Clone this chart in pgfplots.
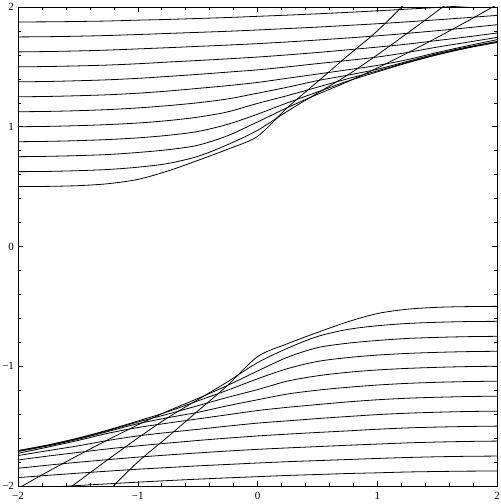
\documentclass[border=0pt]{standalone}
\usepackage{pgfplots}
\pgfplotsset{compat=1.18}
\usepackage{pgfplotstable}
\usepackage{fontspec}
\setmainfont{Liberation Serif}

% upper family, started flat at x=-2
\pgfplotstableread{
x     a     b     c     d     e     f     g     h     i     j     k     l
-2    1.875 1.750 1.625 1.500 1.375 1.250 1.125 1.000 0.875 0.750 0.625 0.500
-1.75 1.876 1.752 1.628 1.503 1.378 1.253 1.128 1.003 0.878 0.753 0.627 0.502
-1.5  1.879 1.756 1.633 1.508 1.384 1.259 1.134 1.009 0.884 0.759 0.633 0.508
-1.25 1.883 1.762 1.640 1.515 1.392 1.267 1.143 1.018 0.893 0.768 0.643 0.524
-1    1.890 1.770 1.650 1.526 1.404 1.280 1.157 1.031 0.907 0.785 0.662 0.560
-0.75 1.896 1.779 1.660 1.540 1.420 1.298 1.176 1.051 0.928 0.808 0.693 0.630
-0.5  1.904 1.788 1.671 1.553 1.437 1.320 1.200 1.080 0.960 0.845 0.752 0.718
-0.25 1.912 1.797 1.682 1.567 1.456 1.343 1.232 1.124 1.020 0.925 0.850 0.812
0     1.922 1.808 1.694 1.582 1.475 1.370 1.280 1.195 1.105 1.040 0.970 0.920
0.25  1.932 1.820 1.708 1.600 1.500 1.405 1.330 1.260 1.200 1.160 1.130 1.160
0.5   1.943 1.832 1.724 1.620 1.527 1.440 1.385 1.330 1.290 1.270 1.280 1.375
0.75  1.955 1.846 1.741 1.642 1.553 1.475 1.430 1.400 1.380 1.375 1.430 1.590
1     1.968 1.860 1.759 1.665 1.582 1.512 1.480 1.466 1.458 1.490 1.600 1.800
1.25  1.982 1.876 1.780 1.690 1.620 1.560 1.545 1.538 1.533 1.615 1.780 2.050
1.5   1.996 1.893 1.802 1.720 1.665 1.620 1.610 1.603 1.600 1.745 1.965 2.350
1.75  2.011 1.911 1.826 1.750 1.705 1.675 1.665 1.660 1.657 1.880 2.150 2.600
2     2.027 1.930 1.852 1.783 1.746 1.727 1.712 1.707 1.704 2.020 2.330 2.900
}\upperfam

% lower family, started flat at x=2
\pgfplotstableread{
x     a      b      c      d      e      f      g      h      i      j      k      l
2     -1.875 -1.750 -1.625 -1.500 -1.375 -1.250 -1.125 -1.000 -0.875 -0.750 -0.625 -0.500
1.75  -1.876 -1.752 -1.628 -1.503 -1.378 -1.253 -1.128 -1.003 -0.878 -0.753 -0.627 -0.502
1.5   -1.879 -1.756 -1.633 -1.508 -1.384 -1.259 -1.134 -1.009 -0.884 -0.759 -0.633 -0.508
1.25  -1.883 -1.762 -1.640 -1.515 -1.392 -1.267 -1.143 -1.018 -0.893 -0.768 -0.643 -0.524
1     -1.890 -1.770 -1.650 -1.526 -1.404 -1.280 -1.157 -1.031 -0.907 -0.785 -0.662 -0.560
0.75  -1.896 -1.779 -1.660 -1.540 -1.420 -1.298 -1.176 -1.051 -0.928 -0.808 -0.693 -0.630
0.5   -1.904 -1.788 -1.671 -1.553 -1.437 -1.320 -1.200 -1.080 -0.960 -0.845 -0.752 -0.718
0.25  -1.912 -1.797 -1.682 -1.567 -1.456 -1.343 -1.232 -1.124 -1.020 -0.925 -0.850 -0.812
0     -1.922 -1.808 -1.694 -1.582 -1.475 -1.370 -1.280 -1.195 -1.105 -1.040 -0.970 -0.920
-0.25 -1.932 -1.820 -1.708 -1.600 -1.500 -1.405 -1.330 -1.260 -1.200 -1.160 -1.130 -1.160
-0.5  -1.943 -1.832 -1.724 -1.620 -1.527 -1.440 -1.385 -1.330 -1.290 -1.270 -1.280 -1.375
-0.75 -1.955 -1.846 -1.741 -1.642 -1.553 -1.475 -1.430 -1.400 -1.380 -1.375 -1.430 -1.590
-1    -1.968 -1.860 -1.759 -1.665 -1.582 -1.512 -1.480 -1.466 -1.458 -1.490 -1.600 -1.800
-1.25 -1.982 -1.876 -1.780 -1.690 -1.620 -1.560 -1.545 -1.538 -1.533 -1.615 -1.780 -2.050
-1.5  -1.996 -1.893 -1.802 -1.720 -1.665 -1.620 -1.610 -1.603 -1.600 -1.745 -1.965 -2.350
-1.75 -2.011 -1.911 -1.826 -1.750 -1.705 -1.675 -1.665 -1.660 -1.657 -1.880 -2.150 -2.600
-2    -2.027 -1.930 -1.852 -1.783 -1.746 -1.727 -1.712 -1.707 -1.704 -2.020 -2.330 -2.900
}\lowerfam

\begin{document}
\begin{tikzpicture}
\begin{axis}[
  scale only axis, width=479pt, height=479pt,
  xmin=-2, xmax=2, ymin=-2, ymax=2,
  xtick={-2,-1,0,1,2}, ytick={-2,-1,0,1,2},
  xticklabels={−2,−1,0,1,2}, yticklabels={−2,−1,0,1,2},
  minor tick num=4, tick align=inside,
  major tick length=5pt, minor tick length=3pt,
  every tick/.style={black, line width=0.5pt},
  axis line style={black, line width=0.6pt},
  tick label style={font=\fontsize{11}{13}\selectfont},
  xticklabel style={yshift=-2.5pt},
  yticklabel style={xshift=-0.5pt},
]
\coordinate (SW) at (rel axis cs:0,0);
\coordinate (NE) at (rel axis cs:1,1);
\pgfplotsinvokeforeach{a,b,c,d,e,f,g,h,i,j,k,l}{
  \addplot[black, line width=0.8pt, smooth] table[x=x, y=#1] {\upperfam};
  \addplot[black, line width=0.8pt, smooth] table[x=x, y=#1] {\lowerfam};
}
\end{axis}
\pgfresetboundingbox
\path ([shift={(-18pt,-18pt)}]SW) rectangle ([shift={(3pt,7pt)}]NE);
\end{tikzpicture}
\end{document}
